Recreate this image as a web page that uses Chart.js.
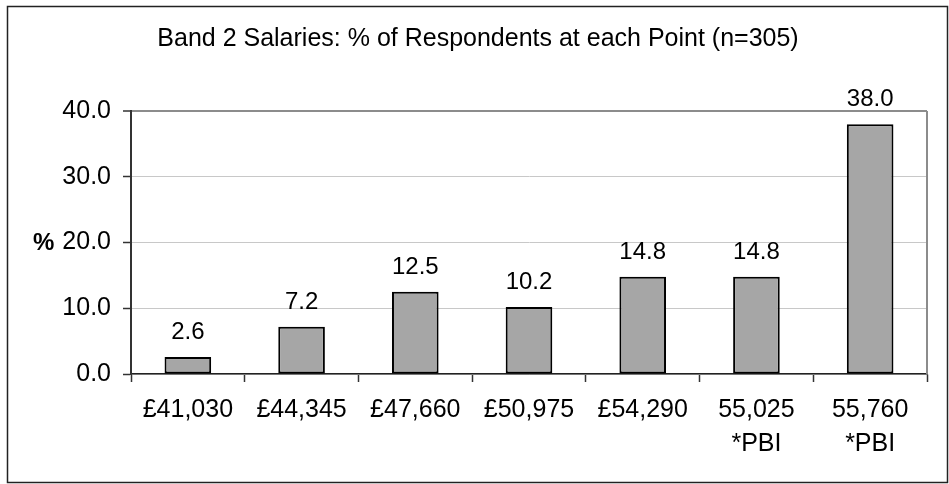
<!DOCTYPE html>
<html>
<head>
<meta charset="utf-8">
<script src="https://cdn.jsdelivr.net/npm/chart.js@4/dist/chart.umd.min.js"></script>
<style>
  html, body { margin: 0; padding: 0; background: #fff; }
  #wrap { width: 949px; height: 484px; }
</style>
</head>
<body>
<div id="wrap"><canvas id="graph" width="949" height="484"></canvas></div>
<script>
var chartTitle = 'Band 2 Salaries: % of Respondents at each Point (n=305)';
var salaryPoints = ['£41,030', '£44,345', '£47,660', '£50,975', '£54,290', ['55,025', '*PBI'], ['55,760', '*PBI']];
var percentValues = [2.6, 7.2, 12.5, 10.2, 14.8, 14.8, 38.0];
var yTicks = [0, 10, 20, 30, 40];

var FONT = '"Liberation Sans", Arial, sans-serif';

// frame, plot border, title, "%" label and value labels
var extras = {
    id: 'extras',
    beforeDraw: function(chart) {
        var ctx = chart.ctx;
        ctx.save();
        ctx.fillStyle = '#fff';
        ctx.fillRect(0, 0, chart.width, chart.height);
        ctx.restore();
    },
    afterDraw: function(chart) {
        var ctx = chart.ctx;
        var area = chart.chartArea;
        var y = chart.scales.y;
        ctx.save();
        // outer frame
        ctx.strokeStyle = '#222';
        ctx.lineWidth = 1.5;
        ctx.strokeRect(7.5, 6.5, 940, 476);
        // right side of plot area
        ctx.strokeStyle = '#8c8c8c';
        ctx.lineWidth = 2;
        ctx.beginPath();
        ctx.moveTo(area.right, area.top);
        ctx.lineTo(area.right, area.bottom);
        ctx.stroke();
        // title
        ctx.fillStyle = '#000';
        ctx.font = '25px ' + FONT;
        ctx.textAlign = 'center';
        ctx.textBaseline = 'alphabetic';
        ctx.fillText(chartTitle, 478, 46);
        // % axis label
        ctx.font = 'bold 24px ' + FONT;
        ctx.textAlign = 'left';
        ctx.textBaseline = 'middle';
        ctx.fillText('%', 33, y.getPixelForValue(20) + 1);
        // value labels
        ctx.font = '24px ' + FONT;
        ctx.textAlign = 'center';
        ctx.textBaseline = 'alphabetic';
        var meta = chart.getDatasetMeta(0);
        meta.data.forEach(function(bar, i) {
            ctx.fillText(percentValues[i].toFixed(1), bar.x, bar.y - 18);
        });
        ctx.restore();
    }
};

var ctx = document.getElementById('graph').getContext('2d');
var chart = new Chart(ctx, {
    type: 'bar',
    data: {
        labels: salaryPoints,
        datasets: [{
            data: percentValues,
            backgroundColor: '#a6a6a6',
            borderColor: '#000',
            borderWidth: 2,
            borderSkipped: false,
            categoryPercentage: 1,
            barPercentage: 0.41
        }]
    },
    options: {
        responsive: false,
        animation: false,
        devicePixelRatio: 1,
        layout: { padding: { left: 29, right: 22, top: 111, bottom: 12 } },
        plugins: {
            legend: { display: false },
            title: { display: false },
            tooltip: { enabled: false }
        },
        scales: {
            x: {
                grid: {
                    offset: true,
                    drawOnChartArea: false,
                    drawTicks: true,
                    tickLength: 8,
                    tickColor: '#333',
                    tickWidth: 1.5
                },
                border: { color: '#222', width: 1.5 },
                ticks: {
                    color: '#000',
                    padding: 11,
                    maxRotation: 0,
                    autoSkip: false,
                    font: { family: FONT, size: 25, lineHeight: 1.36 }
                }
            },
            y: {
                min: 0,
                max: 40,
                afterFit: function(scale) { scale.width = 102; },
                afterBuildTicks: function(scale) {
                    scale.ticks = yTicks.map(function(v) { return { value: v }; });
                },
                grid: {
                    color: function(c) { return c.tick && c.tick.value === 40 ? '#8c8c8c' : '#c8c8c8'; },
                    lineWidth: function(c) { return c.tick && c.tick.value === 40 ? 2 : 1; },
                    drawTicks: true,
                    tickLength: 8,
                    tickColor: '#333',
                    tickWidth: 1.5
                },
                border: { color: '#333', width: 2 },
                ticks: {
                    color: '#000',
                    padding: 12,
                    font: { family: FONT, size: 25 },
                    callback: function(v) { return Number(v).toFixed(1); }
                }
            }
        }
    },
    plugins: [extras]
});
</script>
</body>
</html>
